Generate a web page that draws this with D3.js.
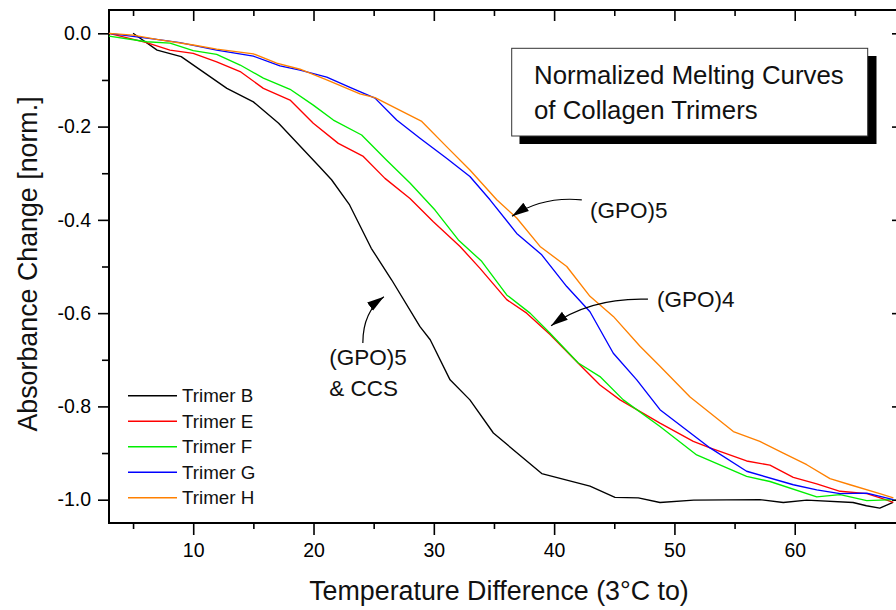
<!DOCTYPE html>
<html><head><meta charset="utf-8">
<script src="https://cdn.jsdelivr.net/npm/d3@7"></script>
<style>
html,body{margin:0;padding:0;background:#fff;overflow:hidden;}
svg{display:block;font-family:"Liberation Sans",Arial,sans-serif;}
</style></head>
<body><svg id="c" width="896" height="610"></svg>
<script>
// ---- data ----
const seriesNames = ["Trimer B","Trimer E","Trimer F","Trimer G","Trimer H"];
const seriesColors = ["#000000","#ff0000","#00ee00","#0000ff","#ff8000"];
const xB = [5.0,7.0,9.0,12.8,15.0,17.1,20.5,21.5,23.0,24.8,26.5,28.85,29.7,31.35,33.0,34.95,38.97,42.98,45.06,47.0,48.8,51.6,57.1,59.05,61.0,64.85,65.96,67.07,68.17];
const yB = [0.0,-0.036,-0.05,-0.118,-0.147,-0.193,-0.286,-0.314,-0.368,-0.461,-0.529,-0.629,-0.657,-0.743,-0.786,-0.857,-0.944,-0.971,-0.995,-0.996,-1.006,-1.001,-1.0,-1.006,-1.001,-1.006,-1.013,-1.018,-1.006];
const xE = [3.0,6.13,8.07,10.0,11.95,13.9,15.83,18.05,19.98,22.06,24.14,25.94,28.02,29.96,32.18,33.84,36.06,37.72,39.66,42.15,43.81,45.48,48.8,51.57,52.96,56.0,57.94,59.88,61.83,63.77,65.99,67.1,68.2];
const yE = [0,-0.020,-0.036,-0.043,-0.061,-0.082,-0.118,-0.143,-0.193,-0.236,-0.264,-0.311,-0.354,-0.404,-0.457,-0.504,-0.571,-0.600,-0.646,-0.711,-0.754,-0.786,-0.836,-0.875,-0.889,-0.917,-0.926,-0.952,-0.966,-0.982,-0.987,-0.996,-1.006];
const xF = [3.0,6.13,8.07,10.0,11.95,13.9,15.83,18.05,19.98,21.65,24.0,26.08,28.02,30.1,32.04,33.98,36.06,38.0,39.66,42.01,43.81,45.75,48.8,51.85,56.0,57.94,61.83,63.77,65.99,68.2];
const yF = [-0.006,-0.018,-0.021,-0.037,-0.045,-0.068,-0.096,-0.12,-0.154,-0.186,-0.218,-0.272,-0.321,-0.379,-0.443,-0.489,-0.561,-0.600,-0.643,-0.707,-0.736,-0.786,-0.843,-0.904,-0.95,-0.961,-0.994,-0.989,-1.002,-1.0];
const xG = [3.0,6.96,8.9,11.95,15.0,17.21,18.88,21.1,23.03,25.11,26.91,28.85,31.06,33.0,34.67,36.89,38.97,41.05,42.98,44.92,46.87,48.8,52.96,56.0,59.88,61.83,63.77,65.99,68.2];
const yG = [0,-0.013,-0.02,-0.036,-0.049,-0.07,-0.079,-0.094,-0.116,-0.139,-0.186,-0.225,-0.268,-0.307,-0.357,-0.429,-0.475,-0.543,-0.597,-0.686,-0.743,-0.807,-0.889,-0.939,-0.968,-0.979,-0.987,-0.986,-1.0];
const xH = [3.0,5.0,6.96,10.0,11.95,15.0,16.94,18.88,21.1,23.86,25.11,29.0,31.06,33.0,35.23,36.89,38.83,41.05,42.98,44.92,47.14,48.8,51.3,54.9,57.1,59.05,61.0,62.93,64.6,67.07,68.2];
const yH = [0,-0.004,-0.013,-0.025,-0.034,-0.044,-0.064,-0.077,-0.1,-0.13,-0.138,-0.189,-0.243,-0.293,-0.357,-0.396,-0.457,-0.5,-0.564,-0.607,-0.671,-0.714,-0.78,-0.854,-0.875,-0.9,-0.925,-0.955,-0.968,-0.987,-0.996];
const xTicksMajor = [10,20,30,40,50,60];
const xTicksMinor = [5,15,25,35,45,55,65];
const yTicksMajor = [0.0,-0.2,-0.4,-0.6,-0.8,-1.0];
const yTicksMinor = [-0.1,-0.3,-0.5,-0.7,-0.9];
const xTitle = "Temperature Difference (3°C to)";
const yTitle = "Absorbance Change [norm.]";
const titleLines = ["Normalized Melting Curves","of Collagen Trimers"];

const seriesX = [xB,xE,xF,xG,xH];
const seriesY = [yB,yE,yF,yG,yH];

// ---- layout ----
const L = 109, R = 903, T = 10, B = 523;
const svg = d3.select("#c");
const x = d3.scaleLinear().domain([3,69]).range([L,R]);
const y = d3.scaleLinear().domain([0.05,-1.05]).range([T,B]);

// axes
const fmt = d3.format(".1f");
const gB = svg.append("g").attr("transform",`translate(0,${B})`)
  .call(d3.axisBottom(x).tickValues(xTicksMajor).tickSize(12).tickPadding(8).tickFormat(d3.format("d")));
const gBm = svg.append("g").attr("transform",`translate(0,${B})`)
  .call(d3.axisBottom(x).tickValues(xTicksMinor).tickSize(6).tickFormat(""));
const gT = svg.append("g").attr("transform",`translate(0,${T})`)
  .call(d3.axisBottom(x).tickValues(xTicksMajor).tickSize(11).tickFormat(""));
const gTm = svg.append("g").attr("transform",`translate(0,${T})`)
  .call(d3.axisBottom(x).tickValues(xTicksMinor).tickSize(6).tickFormat(""));
const gL = svg.append("g").attr("transform",`translate(${L},0)`)
  .call(d3.axisLeft(y).tickValues(yTicksMajor).tickSize(11).tickPadding(7).tickFormat(d=>fmt(d).replace("−","-")));
const gLm = svg.append("g").attr("transform",`translate(${L},0)`)
  .call(d3.axisLeft(y).tickValues(yTicksMinor).tickSize(7).tickFormat(""));
const gR = svg.append("g").attr("transform",`translate(${R},0)`)
  .call(d3.axisLeft(y).tickValues(yTicksMajor).tickSize(11).tickFormat(""));
const gRm = svg.append("g").attr("transform",`translate(${R},0)`)
  .call(d3.axisLeft(y).tickValues(yTicksMinor).tickSize(6).tickFormat(""));
[gB,gBm,gT,gTm,gL,gLm,gR,gRm].forEach(g=>{
  g.select(".domain").remove();
  g.selectAll(".tick line").attr("stroke","#000").attr("stroke-width",1.6);
  g.selectAll("text").attr("fill","#000").attr("font-size",19.5).attr("font-family","Liberation Sans, Arial, sans-serif");
});
// frame
svg.append("rect").attr("x",L).attr("y",T).attr("width",R-L).attr("height",B-T)
  .attr("fill","none").attr("stroke","#000").attr("stroke-width",2);

// curves
const line = d3.line().x(d=>x(d[0])).y(d=>y(d[1]));
seriesNames.forEach((n,i)=>{
  const pts = seriesX[i].map((v,j)=>[v,seriesY[i][j]]);
  svg.append("path").datum(pts).attr("d",line).attr("fill","none")
    .attr("stroke",seriesColors[i]).attr("stroke-width",1.35).attr("stroke-linejoin","round");
});

// legend
const lg = svg.append("g");
seriesNames.forEach((n,i)=>{
  const yy = 395.7 + i*25.5;
  lg.append("line").attr("x1",128).attr("x2",177).attr("y1",yy).attr("y2",yy)
    .attr("stroke",seriesColors[i]).attr("stroke-width",1.5);
  lg.append("text").attr("x",182).attr("y",yy+6.5).attr("font-size",18.8).attr("fill","#111").text(n);
});

// title box
svg.append("rect").attr("x",519.5).attr("y",56).attr("width",357).attr("height",88).attr("fill","#000");
svg.append("rect").attr("x",511.7).attr("y",48.3).attr("width",356).attr("height",87.7)
  .attr("fill","#fff").attr("stroke","#333").attr("stroke-width",1);
titleLines.forEach((t,i)=>{
  svg.append("text").attr("x",534).attr("y",83.5+i*35).attr("font-size",25.8).attr("fill","#111").text(t);
});

// axis titles
svg.append("text").attr("x",499).attr("y",600).attr("text-anchor","middle").attr("font-size",26.8).attr("fill","#111").text(xTitle);
svg.append("text").attr("transform","translate(37,264) rotate(-90)").attr("text-anchor","middle").attr("font-size",26.8).attr("fill","#111").text(yTitle);

// annotations
const defs = svg.append("defs");
defs.append("marker").attr("id","ah").attr("viewBox","0 -6 18 12").attr("refX",17).attr("refY",0)
  .attr("markerWidth",18).attr("markerHeight",12).attr("markerUnits","userSpaceOnUse").attr("orient","auto")
  .append("path").attr("d","M0,-5 L17,0 L0,5 Z").attr("fill","#000");
const ann = [
  {p:[[42.3,-0.357],[39.0,-0.349],[36.5,-0.3925]], t:["(GPO)5"], tx:42.98, ty:-0.3958},
  {p:[[47.8,-0.570],[43.0,-0.566],[39.75,-0.627]], t:["(GPO)4"], tx:48.55, ty:-0.586},
  {p:[[24.1,-0.664],[24.1,-0.597],[25.85,-0.565]], t:["(GPO)5","& CCS"], tx:21.3, ty:-0.711},
];
ann.forEach(a=>{
  const [p0,p1,p2] = a.p;
  svg.append("path").attr("d",`M${x(p0[0])},${y(p0[1])} Q${x(p1[0])},${y(p1[1])} ${x(p2[0])},${y(p2[1])}`)
    .attr("fill","none").attr("stroke","#000").attr("stroke-width",1.2).attr("marker-end","url(#ah)");
  a.t.forEach((s,k)=>{
    svg.append("text").attr("x",x(a.tx)).attr("y",y(a.ty)+k*31).attr("font-size",22.5).attr("fill","#111").text(s);
  });
});
</script></body></html>
